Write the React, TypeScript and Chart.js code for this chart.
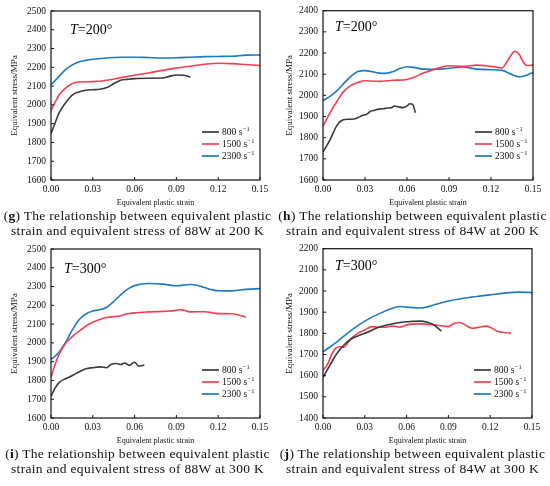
import { useEffect, useRef } from "react";
import { Chart, registerables } from "chart.js";

Chart.register(...registerables);

// series labels and colours (800, 1500, 2300 s^-1)
const rateLabels = ["800", "1500", "2300"];
const lineColors = ["#3a3a3a", "#f2404f", "#1d79c2"];

// (g) 88W at 200 K  -- [strain, stress MPa]
const g800 = [[0, 1846], [0.003, 1905], [0.006, 1960], [0.01, 2006], [0.015, 2051], [0.02, 2069], [0.025, 2078], [0.03, 2081], [0.035, 2083], [0.04, 2092], [0.045, 2113], [0.05, 2131], [0.055, 2136], [0.06, 2140], [0.07, 2142], [0.08, 2143], [0.085, 2152], [0.09, 2159], [0.095, 2158], [0.1, 2149]];
const g1500 = [[0, 1970], [0.003, 2015], [0.006, 2055], [0.01, 2087], [0.015, 2113], [0.02, 2122], [0.03, 2124], [0.04, 2131], [0.05, 2145], [0.06, 2158], [0.07, 2170], [0.08, 2184], [0.09, 2196], [0.1, 2206], [0.11, 2216], [0.12, 2222], [0.13, 2220], [0.14, 2215], [0.15, 2210]];
const g2300 = [[0, 2108], [0.005, 2145], [0.01, 2185], [0.015, 2212], [0.02, 2228], [0.025, 2237], [0.03, 2243], [0.04, 2250], [0.05, 2254], [0.06, 2254], [0.07, 2252], [0.08, 2250], [0.09, 2251], [0.1, 2254], [0.11, 2257], [0.12, 2258], [0.13, 2259], [0.14, 2265], [0.15, 2266]];

// (h) 84W at 200 K
const h800 = [[0, 1732], [0.005, 1790], [0.01, 1858], [0.013, 1880], [0.017, 1887], [0.022, 1888], [0.025, 1895], [0.028, 1905], [0.031, 1910], [0.034, 1925], [0.037, 1930], [0.04, 1935], [0.043, 1937], [0.046, 1940], [0.049, 1942], [0.051, 1950], [0.054, 1945], [0.057, 1942], [0.06, 1950], [0.062, 1960], [0.064, 1958], [0.066, 1918]];
const h1500 = [[0, 1854], [0.005, 1917], [0.01, 1972], [0.015, 2020], [0.02, 2047], [0.025, 2061], [0.03, 2069], [0.04, 2066], [0.05, 2071], [0.06, 2075], [0.065, 2085], [0.07, 2101], [0.08, 2124], [0.09, 2140], [0.1, 2137], [0.11, 2143], [0.12, 2137], [0.128, 2130], [0.132, 2165], [0.137, 2208], [0.14, 2195], [0.143, 2158], [0.146, 2141], [0.15, 2143]];
const h2300 = [[0, 1975], [0.005, 1995], [0.01, 2022], [0.015, 2058], [0.02, 2090], [0.025, 2113], [0.03, 2117], [0.035, 2112], [0.04, 2105], [0.045, 2104], [0.05, 2112], [0.055, 2127], [0.06, 2135], [0.065, 2132], [0.07, 2125], [0.08, 2123], [0.09, 2128], [0.1, 2134], [0.11, 2124], [0.12, 2121], [0.128, 2118], [0.135, 2098], [0.14, 2088], [0.145, 2094], [0.15, 2108]];

// (i) 88W at 300 K
const i800 = [[0, 1716], [0.003, 1760], [0.006, 1790], [0.01, 1808], [0.015, 1825], [0.02, 1845], [0.025, 1862], [0.03, 1868], [0.035, 1872], [0.04, 1868], [0.043, 1885], [0.047, 1890], [0.05, 1885], [0.053, 1893], [0.056, 1880], [0.06, 1897], [0.063, 1877], [0.067, 1882]];
const i1500 = [[0, 1819], [0.005, 1926], [0.01, 1993], [0.015, 2032], [0.02, 2061], [0.025, 2090], [0.03, 2110], [0.035, 2125], [0.04, 2135], [0.05, 2145], [0.055, 2155], [0.06, 2160], [0.07, 2165], [0.08, 2168], [0.09, 2173], [0.093, 2177], [0.1, 2165], [0.11, 2166], [0.12, 2156], [0.13, 2155], [0.14, 2137]];
const i2300 = [[0, 1912], [0.005, 1944], [0.01, 1997], [0.015, 2065], [0.02, 2122], [0.025, 2154], [0.03, 2170], [0.035, 2176], [0.04, 2190], [0.045, 2220], [0.05, 2256], [0.055, 2286], [0.06, 2305], [0.07, 2316], [0.08, 2313], [0.09, 2304], [0.1, 2311], [0.105, 2307], [0.11, 2295], [0.12, 2278], [0.13, 2277], [0.14, 2285], [0.15, 2289]];

// (j) 84W at 300 K
const j800 = [[0, 1591], [0.005, 1650], [0.01, 1705], [0.015, 1745], [0.02, 1772], [0.025, 1788], [0.03, 1800], [0.04, 1829], [0.05, 1845], [0.06, 1855], [0.07, 1858], [0.075, 1852], [0.08, 1838], [0.085, 1810]];
const j1500 = [[0, 1626], [0.003, 1650], [0.006, 1697], [0.009, 1729], [0.012, 1737], [0.015, 1735], [0.02, 1775], [0.025, 1800], [0.03, 1816], [0.035, 1832], [0.04, 1829], [0.045, 1829], [0.05, 1835], [0.055, 1829], [0.06, 1840], [0.07, 1845], [0.08, 1840], [0.085, 1836], [0.09, 1832], [0.094, 1846], [0.098, 1851], [0.103, 1836], [0.107, 1824], [0.112, 1829], [0.117, 1834], [0.12, 1829], [0.125, 1810], [0.13, 1804], [0.135, 1801]];
const j2300 = [[0, 1713], [0.01, 1760], [0.02, 1813], [0.03, 1858], [0.04, 1892], [0.05, 1919], [0.055, 1927], [0.06, 1924], [0.07, 1920], [0.08, 1935], [0.09, 1953], [0.1, 1965], [0.11, 1974], [0.12, 1982], [0.13, 1990], [0.14, 1995], [0.15, 1993]];

// axis ranges
const strainMax = 0.15;
const strainStep = 0.03;
const stressStep = 100;

const SERIF = "'Liberation Serif', 'Times New Roman', serif";

type PanelCfg = {
  letter: string;
  series: number[][][];
  yMin: number;
  yMax: number;
  temp: string;
  alloy: string;
  kelvin: string;
  // layout
  left: number;
  top: number;
  pad: { top: number; right: number };
  yw: number;
  tLabel: { dx: number; dy: number };
};

const panels: PanelCfg[] = [
  { letter: "g", series: [g800, g1500, g2300], yMin: 1600, yMax: 2500, temp: "200", alloy: "88W", kelvin: "200",
    left: 0, top: 0, pad: { top: 11, right: 15 }, yw: 51, tLabel: { dx: 19, dy: 23 } },
  { letter: "h", series: [h800, h1500, h2300], yMin: 1600, yMax: 2400, temp: "200", alloy: "84W", kelvin: "200",
    left: 275, top: 0, pad: { top: 9, right: 17 }, yw: 48, tLabel: { dx: 12, dy: 20 } },
  { letter: "i", series: [i800, i1500, i2300], yMin: 1600, yMax: 2500, temp: "300", alloy: "88W", kelvin: "300",
    left: 0, top: 238, pad: { top: 11, right: 15 }, yw: 51, tLabel: { dx: 13, dy: 24 } },
  { letter: "j", series: [j800, j1500, j2300], yMin: 1400, yMax: 2200, temp: "300", alloy: "84W", kelvin: "300",
    left: 275, top: 238, pad: { top: 10, right: 18 }, yw: 48, tLabel: { dx: 12, dy: 21 } },
];

const Panel = ({ cfg }: { cfg: PanelCfg }) => {
  const chartRef = useRef<Chart | null>(null);
  const canvasRef = useRef<HTMLCanvasElement | null>(null);

  useEffect(() => {
    if (!canvasRef.current) return;
    chartRef.current?.destroy();

    // frame, inward ticks, legend and the T label
    const decor = {
      id: "decor",
      afterDraw(chart: Chart) {
        const { ctx, chartArea } = chart;
        const { left, right, top, bottom } = chartArea;
        ctx.save();
        ctx.strokeStyle = "#111";
        ctx.lineWidth = 1.2;
        ctx.strokeRect(left, top, right - left, bottom - top);

        const xs = chart.scales.x;
        const ys = chart.scales.y;
        ctx.lineWidth = 1;
        ctx.beginPath();
        xs.ticks.forEach((t) => {
          const px = xs.getPixelForValue(t.value);
          ctx.moveTo(px, bottom);
          ctx.lineTo(px, bottom - 3);
        });
        ys.ticks.forEach((t) => {
          const py = ys.getPixelForValue(t.value);
          ctx.moveTo(left, py);
          ctx.lineTo(left + 3, py);
        });
        ctx.stroke();

        // legend
        rateLabels.forEach((lab, k) => {
          const y = bottom - 48 + k * 12;
          ctx.strokeStyle = lineColors[k];
          ctx.lineWidth = 1.7;
          ctx.beginPath();
          ctx.moveTo(right - 58, y);
          ctx.lineTo(right - 41, y);
          ctx.stroke();
          ctx.fillStyle = "#111";
          ctx.textBaseline = "middle";
          ctx.textAlign = "left";
          ctx.font = `9.5px ${SERIF}`;
          const txt = `${lab} s`;
          ctx.fillText(txt, right - 38, y + 0.5);
          const w = ctx.measureText(txt).width;
          ctx.font = `6.5px ${SERIF}`;
          ctx.fillText("\u22121", right - 38 + w + 0.5, y - 3);
        });

        // T=...° label
        const tx = left + cfg.tLabel.dx;
        const ty = top + cfg.tLabel.dy;
        ctx.fillStyle = "#000";
        ctx.textBaseline = "alphabetic";
        ctx.font = `italic 14px ${SERIF}`;
        ctx.fillText("T", tx, ty);
        const tw = ctx.measureText("T").width;
        ctx.font = `14px ${SERIF}`;
        ctx.fillText(`=${cfg.temp}\u00b0`, tx + tw, ty);
        ctx.restore();
      },
    };

    chartRef.current = new Chart(canvasRef.current, {
      type: "line",
      data: {
        datasets: cfg.series.map((s, k) => ({
          label: `${rateLabels[k]} s-1`,
          data: s.map(([x, y]) => ({ x, y })),
          borderColor: lineColors[k],
          borderWidth: 1.6,
          pointRadius: 0,
          fill: false,
          cubicInterpolationMode: "monotone" as const,
        })),
      },
      options: {
        animation: false,
        responsive: false,
        layout: { padding: { left: 0, top: cfg.pad.top, right: cfg.pad.right, bottom: 0 } },
        plugins: { legend: { display: false }, tooltip: { enabled: false } },
        scales: {
          x: {
            type: "linear",
            min: 0,
            max: strainMax,
            grid: { display: false, drawTicks: false },
            border: { display: false },
            ticks: {
              stepSize: strainStep,
              padding: 4,
              color: "#111",
              font: { family: SERIF, size: 9.5 },
              callback: (v) => Number(v).toFixed(2),
            },
            title: {
              display: true,
              text: "Equivalent plastic strain",
              color: "#111",
              font: { family: SERIF, size: 8 },
              padding: { top: 0, bottom: 2.5 },
            },
            afterFit: (s) => {
              s.height = 30;
            },
          },
          y: {
            min: cfg.yMin,
            max: cfg.yMax,
            grid: { display: false, drawTicks: false },
            border: { display: false },
            ticks: {
              stepSize: stressStep,
              padding: 5,
              color: "#111",
              font: { family: SERIF, size: 9.5 },
              callback: (v) => String(v),
            },
            title: {
              display: true,
              text: "Equivalent stress/MPa",
              color: "#111",
              font: { family: SERIF, size: 9 },
              padding: { top: 9.5, bottom: 0 },
            },
            afterFit: (s) => {
              s.width = cfg.yw;
            },
          },
        },
      },
      plugins: [decor],
    });

    return () => {
      chartRef.current?.destroy();
      chartRef.current = null;
    };
  }, [cfg]);

  return (
    <div style={{ position: "absolute", left: cfg.left, top: cfg.top, width: 275, height: 210 }}>
      <canvas ref={canvasRef} width={275} height={210} />
    </div>
  );
};

const Caption = ({ cfg }: { cfg: PanelCfg }) => (
  <div
    style={{
      position: "absolute",
      left: cfg.left,
      top: cfg.top + 209,
      width: 275,
      textAlign: "center",
      fontFamily: SERIF,
      fontSize: 13.5,
      letterSpacing: 0.3,
      lineHeight: "14.5px",
      color: "#111",
      whiteSpace: "nowrap",
    }}
  >
    <div>
      (<b>{cfg.letter}</b>) The relationship between equivalent plastic
    </div>
    <div>
      strain and equivalent stress of {cfg.alloy} at {cfg.kelvin} K
    </div>
  </div>
);

const App = () => {
  return (
    <div style={{ position: "absolute", left: 0, top: 0, width: 550, height: 486, background: "#fff", overflow: "hidden" }}>
      {panels.map((p) => (
        <Panel key={p.letter} cfg={p} />
      ))}
      {panels.map((p) => (
        <Caption key={`c${p.letter}`} cfg={p} />
      ))}
    </div>
  );
};

export default App;
